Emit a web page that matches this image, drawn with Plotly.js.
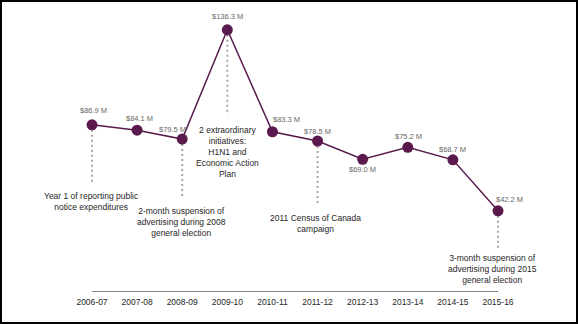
<!DOCTYPE html>
<html>
<head>
<meta charset="utf-8">
<script src="https://cdn.plot.ly/plotly-3.0.1.min.js"></script>
<style>
  html, body { margin: 0; padding: 0; background: #fff; }
  #wrap { position: relative; width: 578px; height: 324px; }
  #chart { position: absolute; left: 0; top: 0; width: 578px; height: 324px; }
  #frame { position: absolute; left: 0; top: 0; width: 578px; height: 324px; box-sizing: border-box; border: 2px solid #000; pointer-events: none; }
</style>
</head>
<body>
<div id="wrap"><div id="chart"></div><div id="frame"></div></div>
<script>
// Data
const years = ["2006-07","2007-08","2008-09","2009-10","2010-11","2011-12","2012-13","2013-14","2014-15","2015-16"];
const spending = [86.9, 84.1, 79.5, 136.3, 83.3, 78.5, 69.0, 75.2, 68.7, 42.2];
const noteYears = ["2006-07","2008-09","2009-10","2011-12","2015-16"];
const noteTexts = [
  "Year 1 of reporting public<br>notice expenditures",
  "2-month suspension of<br>advertising during 2008<br>general election",
  "2 extraordinary<br>initiatives:<br>H1N1 and<br>Economic Action<br>Plan",
  "2011 Census of Canada<br>campaign",
  "3-month suspension of<br>advertising during 2015<br>general election"
];

// Layout helpers (positions/styles)
const labelShift = [[1,14],[2,12],[-10,10],[0,13],[14,12],[0,10],[0,-10],[1,11],[0,10],[11,11]];
const noteLineEnd = [56.7, 48.4, 92.0, 45.2, 22.9];
const noteTop = [53.8, 46.0, 88.1, 41.9, 21.1];
const noteShift = [-1, -1, 0, -2, -6];

const purple = "#5a1a4e";
const font = "Liberation Sans, Arial, sans-serif";

const shapes = [];
const annotations = [];

// baseline
shapes.push({type:"line", xref:"x", yref:"y", x0:years[0], x1:years[years.length-1], y0:0, y1:0,
  line:{color:"#595959", width:1.5}, layer:"below"});

noteYears.forEach((yr, k) => {
  const i = years.indexOf(yr);
  shapes.push({type:"line", xref:"x", yref:"y", x0:yr, x1:yr, y0:spending[i], y1:noteLineEnd[k],
    line:{color:"#a6a6a6", width:2, dash:"2px,3px"}, layer:"below"});
  annotations.push({xref:"x", yref:"y", x:yr, y:noteTop[k], yanchor:"top", xanchor:"center",
    xshift:noteShift[k], text:noteTexts[k], showarrow:false, align:"center",
    font:{family:font, size:8.5, color:"#262626"}});
});

spending.forEach((v, i) => {
  annotations.push({xref:"x", yref:"y", x:years[i], y:v, text:"$" + v.toFixed(1) + " M",
    showarrow:false, xanchor:"center", yanchor:"middle",
    xshift:labelShift[i][0], yshift:labelShift[i][1],
    font:{family:font, size:7.5, color:"#666666"}});
});

const trace = {
  x: years, y: spending, type:"scatter", mode:"lines+markers",
  line:{color:purple, width:1.5},
  marker:{color:purple, size:11},
  cliponaxis:false, hoverinfo:"skip"
};

const layout = {
  width:578, height:324,
  margin:{l:20, r:20, t:10, b:32, pad:0},
  paper_bgcolor:"#fff", plot_bgcolor:"#fff",
  showlegend:false,
  xaxis:{type:"category", categoryorder:"array", categoryarray:years,
    range:[-1.596, 10.33], showgrid:false, zeroline:false, showline:false,
    ticks:"", ticklabelstandoff:3, tickfont:{family:font, size:8.5, color:"#262626"}, fixedrange:true},
  yaxis:{range:[0, 146.6], showgrid:false, zeroline:false, showline:false,
    showticklabels:false, ticks:"", fixedrange:true},
  shapes: shapes,
  annotations: annotations
};

Plotly.newPlot("chart", [trace], layout, {displayModeBar:false, staticPlot:true});
</script>
</body>
</html>
